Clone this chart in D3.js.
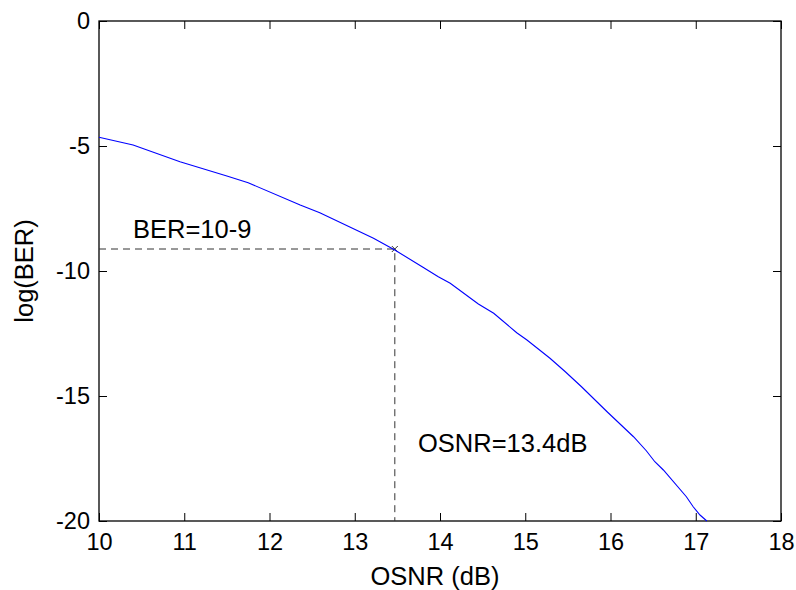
<!DOCTYPE html>
<html>
<head>
<meta charset="utf-8">
<script src="https://cdn.jsdelivr.net/npm/d3@7"></script>
<style>
  body { margin: 0; background: #fff; }
  text { font-family: "Liberation Sans", Arial, sans-serif; fill: #000; }
</style>
</head>
<body>
<div id="chart-container"></div>
<script>
// BER curve vs OSNR
const osnr = [10.0, 10.4, 10.95, 11.5, 11.75, 12.36, 12.59, 13.22, 13.47, 13.8, 13.98, 14.12,
  14.45, 14.63, 14.9, 15.02, 15.29, 15.47, 15.66, 15.96, 16.27, 16.42, 16.52, 16.62,
  16.89, 16.97, 17.05, 17.13];
const logBer = [-4.65, -4.96, -5.63, -6.2, -6.47, -7.36, -7.67, -8.69, -9.16, -9.85, -10.23, -10.49,
  -11.32, -11.69, -12.47, -12.76, -13.49, -14.03, -14.63, -15.63, -16.63, -17.19, -17.63, -17.96,
  -19.03, -19.43, -19.76, -20.0];
const xTicks = [10, 11, 12, 13, 14, 15, 16, 17, 18];
const yTicks = [0, -5, -10, -15, -20];
const marker = { x: 13.47, y: -9.12 };

const svgWidth = 796;
const svgHeight = 590;
const margin = { top: 21, right: 15, bottom: 69, left: 99 };
const width = svgWidth - margin.left - margin.right;
const height = svgHeight - margin.top - margin.bottom;

const svg = d3.select("#chart-container")
    .append("svg")
    .attr("width", svgWidth)
    .attr("height", svgHeight)
    .append("g")
    .attr("transform", `translate(${margin.left},${margin.top})`);

const x = d3.scaleLinear().domain([10, 18]).range([0, width]);
const y = d3.scaleLinear().domain([-20, 0]).range([height, 0]);

// axes, ticks pointing inward like matlab
const fs = "23.5px";
const fsLabel = "25.5px";
const gx = svg.append("g")
    .attr("transform", `translate(0, ${height})`)
    .call(d3.axisBottom(x).tickValues(xTicks).tickSize(-8).tickPadding(12).tickFormat(d3.format("d")));
const gy = svg.append("g")
    .call(d3.axisLeft(y).tickValues(yTicks).tickSize(-8).tickPadding(9).tickFormat(d => d === 0 ? "0" : "-" + Math.abs(d)));
svg.append("g")
    .call(d3.axisTop(x).tickValues(xTicks).tickSize(-8).tickFormat(""));
svg.append("g")
    .attr("transform", `translate(${width}, 0)`)
    .call(d3.axisRight(y).tickValues(yTicks).tickSize(-8).tickFormat(""));

svg.selectAll(".domain").remove();
svg.selectAll(".tick line").attr("stroke", "#000");
svg.selectAll(".tick text").style("font-size", fs).attr("fill", "#000");
gx.selectAll(".tick text").attr("dy", "0.71em");

svg.append("rect")
    .attr("width", width)
    .attr("height", height)
    .attr("fill", "none")
    .attr("stroke", "#000")
    .attr("stroke-width", 1.3);

// dashed guide lines
svg.append("path")
    .attr("d", `M0,${y(marker.y)}H${x(marker.x)}V${height}`)
    .attr("fill", "none")
    .attr("stroke", "#333")
    .attr("stroke-width", 1)
    .attr("stroke-dasharray", "7,5");

// small cross at the intersection
svg.append("path")
    .attr("d", `M${x(marker.x) - 3},${y(marker.y) - 3}l6,6M${x(marker.x) - 3},${y(marker.y) + 3}l6,-6`)
    .attr("stroke", "#000")
    .attr("stroke-width", 0.8);

// curve
const pts = osnr.map((v, i) => [v, logBer[i]]);
svg.append("path")
    .datum(pts)
    .attr("fill", "none")
    .attr("stroke", "#0000ff")
    .attr("stroke-width", 1.1)
    .attr("d", d3.line().x(d => x(d[0])).y(d => y(d[1])));

// annotations
svg.append("text")
    .text("BER=10-9")
    .attr("x", 34)
    .attr("y", 217)
    .style("font-size", fsLabel);

svg.append("text")
    .text("OSNR=13.4dB")
    .attr("x", 319)
    .attr("y", 431)
    .style("font-size", fsLabel);

// axis labels
svg.append("text")
    .text("OSNR (dB)")
    .attr("x", 336)
    .attr("y", height + 64)
    .attr("text-anchor", "middle")
    .style("font-size", fsLabel);

svg.append("text")
    .text("log(BER)")
    .attr("transform", `translate(${-66}, ${height / 2}) rotate(-90)`)
    .attr("text-anchor", "middle")
    .style("font-size", fsLabel);
</script>
</body>
</html>
